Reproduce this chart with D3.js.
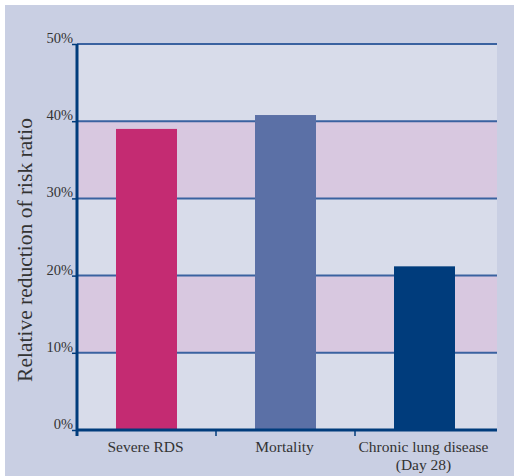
<!DOCTYPE html>
<html>
<head>
<meta charset="utf-8">
<script src="https://cdn.jsdelivr.net/npm/d3@7"></script>
<style>
  body { margin: 0; background: #fff; }
  text { font-family: "Liberation Serif", "DejaVu Serif", serif; fill: #333; }
</style>
</head>
<body>
<div id="vis"></div>
<script>
// datos
const categorias = ["Severe RDS", "Mortality", "Chronic lung disease|(Day 28)"];
const valores = [39, 40.8, 21.2];
const colores = ["#c42b72", "#5b70a6", "#003c7c"];
const ticksY = [0, 10, 20, 30, 40, 50];

const WIDTH = 514;
const HEIGHT = 476;
const MARGIN = { top: 44, bottom: 46, left: 77, right: 17 };

const WIDTHVIS = WIDTH - MARGIN.left - MARGIN.right;
const HEIGHTVIS = HEIGHT - MARGIN.top - MARGIN.bottom;

const svg = d3.select("#vis").append("svg")
    .attr("width", WIDTH)
    .attr("height", HEIGHT);

// fondo exterior
svg.append("rect")
    .attr("x", 5).attr("y", 5)
    .attr("width", WIDTH - 5).attr("height", HEIGHT - 5)
    .attr("fill", "#c9cfe3");

const g = svg.append("g")
    .attr("transform", `translate(${MARGIN.left}, ${MARGIN.top})`);

const escalaY = d3.scaleLinear().domain([0, 50]).range([HEIGHTVIS, 0]);
// las bandas no llegan justo al borde derecho
const escalaX = d3.scaleBand().domain(categorias).range([0, WIDTHVIS - 3]);

// bandas alternadas
const bandas = d3.pairs(ticksY);
g.selectAll("rect.banda")
    .data(bandas)
    .join("rect")
    .attr("class", "banda")
    .attr("x", 0)
    .attr("width", WIDTHVIS)
    .attr("y", d => escalaY(d[1]))
    .attr("height", d => escalaY(d[0]) - escalaY(d[1]))
    .attr("fill", (d, i) => i % 2 === 0 ? "#d8dcea" : "#d8c8e0");

// lineas de grilla
g.selectAll("line.grid")
    .data(ticksY.slice(1))
    .join("line")
    .attr("class", "grid")
    .attr("x1", 0).attr("x2", WIDTHVIS)
    .attr("y1", d => escalaY(d)).attr("y2", d => escalaY(d))
    .attr("stroke", "#3a62a0")
    .attr("stroke-width", 2);

// barras
const anchoBarra = 61;
g.selectAll("rect.barra")
    .data(categorias)
    .join("rect")
    .attr("class", "barra")
    .attr("x", d => escalaX(d) + escalaX.bandwidth() / 2 - anchoBarra / 2)
    .attr("width", anchoBarra)
    .attr("y", (d, i) => escalaY(valores[i]))
    .attr("height", (d, i) => HEIGHTVIS - escalaY(valores[i]))
    .attr("fill", (d, i) => colores[i]);

// eje Y
const ejeY = d3.axisLeft(escalaY).tickValues(ticksY).tickSize(5).tickFormat(d => d + "%");
const gY = g.append("g").call(ejeY);
gY.select(".domain").remove();
gY.selectAll("line").attr("stroke", "#003c7c").attr("stroke-width", 1.5);
gY.selectAll("text")
    .attr("x", -4)
    .attr("dy", "-0.1em")
    .style("font-size", "14.5px")
    .attr("fill", "#333")
    .style("font-family", "Liberation Serif, serif");

g.append("line")
    .attr("x1", 0).attr("x2", 0)
    .attr("y1", 0).attr("y2", HEIGHTVIS + 6)
    .attr("stroke", "#003c7c")
    .attr("stroke-width", 3);

// eje X
g.append("line")
    .attr("x1", 0).attr("x2", WIDTHVIS)
    .attr("y1", HEIGHTVIS).attr("y2", HEIGHTVIS)
    .attr("stroke", "#003c7c")
    .attr("stroke-width", 3);

g.selectAll("line.tickx")
    .data(categorias)
    .join("line")
    .attr("class", "tickx")
    .attr("x1", d => escalaX(d)).attr("x2", d => escalaX(d))
    .attr("y1", HEIGHTVIS).attr("y2", HEIGHTVIS + 6)
    .attr("stroke", "#003c7c")
    .attr("stroke-width", 1.5);

const etiquetas = g.selectAll("text.etx")
    .data(categorias)
    .join("text")
    .attr("class", "etx")
    .attr("text-anchor", "middle")
    .attr("y", HEIGHTVIS + 22)
    .style("font-size", "15.5px");

etiquetas.each(function (d) {
    const partes = d.split("|");
    const x = escalaX(d) + escalaX.bandwidth() / 2 - 1;
    d3.select(this).selectAll("tspan")
        .data(partes)
        .join("tspan")
        .attr("x", x)
        .attr("dy", (p, i) => i === 0 ? 0 : "1.15em")
        .text(p => p);
});

// titulo eje Y
svg.append("text")
    .attr("transform", `translate(32, 250) rotate(-90)`)
    .attr("text-anchor", "middle")
    .style("font-size", "21.5px")
    .text("Relative reduction of risk ratio");
</script>
</body>
</html>
